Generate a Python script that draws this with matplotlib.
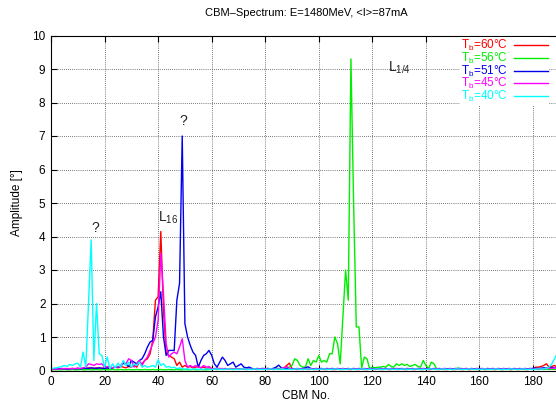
import matplotlib
matplotlib.use('Agg')
import matplotlib.pyplot as plt
import numpy as np

plt.rcParams['font.family'] = ['Liberation Sans', 'DejaVu Sans']
plt.rcParams['mathtext.fontset'] = 'custom'
plt.rcParams['mathtext.rm'] = 'Liberation Sans'

# CBM numbers 0..189 (visible part of the spectrum)
cbm = np.arange(190)

# amplitudes [deg], one list per bunch temperature
amp_60 = [
    0.03, 0.04, 0.03, 0.05, 0.04, 0.05, 0.06, 0.05, 0.06, 0.05,
    0.06, 0.05, 0.07, 0.06, 0.08, 0.07, 0.06, 0.08, 0.07, 0.06,
    0.08, 0.07, 0.06, 0.08, 0.10, 0.08, 0.12, 0.10, 0.08, 0.12,
    0.10, 0.15, 0.10, 0.25, 0.20, 0.30, 0.35, 0.50, 0.90, 2.10,
    2.20, 4.15, 1.80, 0.50, 0.45, 0.40, 0.35, 0.15, 0.25, 0.10,
    0.15, 0.10, 0.12, 0.08, 0.10, 0.12, 0.08, 0.10, 0.06, 0.08,
    0.06, 0.05, 0.07, 0.05, 0.06, 0.04, 0.05, 0.06, 0.04, 0.05,
    0.04, 0.05, 0.04, 0.03, 0.04, 0.05, 0.04, 0.03, 0.04, 0.03,
    0.04, 0.03, 0.04, 0.03, 0.05, 0.04, 0.05, 0.08, 0.15, 0.22,
    0.05, 0.04, 0.03, 0.04, 0.03, 0.04, 0.03, 0.04, 0.03, 0.03,
    0.03, 0.04, 0.03, 0.03, 0.04, 0.03, 0.03, 0.04, 0.03, 0.03,
    0.04, 0.03, 0.03, 0.04, 0.03, 0.03, 0.04, 0.03, 0.03, 0.04,
    0.03, 0.03, 0.04, 0.03, 0.03, 0.04, 0.03, 0.03, 0.04, 0.03,
    0.03, 0.04, 0.03, 0.03, 0.04, 0.03, 0.03, 0.04, 0.03, 0.03,
    0.04, 0.03, 0.03, 0.04, 0.03, 0.03, 0.04, 0.03, 0.03, 0.04,
    0.03, 0.03, 0.04, 0.03, 0.03, 0.04, 0.03, 0.03, 0.04, 0.03,
    0.03, 0.04, 0.03, 0.03, 0.04, 0.03, 0.03, 0.04, 0.03, 0.03,
    0.04, 0.03, 0.03, 0.04, 0.03, 0.03, 0.04, 0.03, 0.03, 0.04,
    0.05, 0.10, 0.10, 0.12, 0.15, 0.20, 0.10, 0.12, 0.15, 0.10,
]
amp_56 = [
    0.02, 0.02, 0.03, 0.02, 0.02, 0.03, 0.02, 0.02, 0.03, 0.02,
    0.02, 0.03, 0.02, 0.02, 0.03, 0.02, 0.02, 0.03, 0.02, 0.02,
    0.03, 0.02, 0.02, 0.03, 0.02, 0.02, 0.03, 0.02, 0.02, 0.03,
    0.02, 0.02, 0.03, 0.02, 0.02, 0.03, 0.02, 0.02, 0.03, 0.02,
    0.02, 0.03, 0.02, 0.02, 0.03, 0.02, 0.02, 0.03, 0.02, 0.02,
    0.03, 0.02, 0.02, 0.03, 0.02, 0.02, 0.03, 0.02, 0.02, 0.03,
    0.03, 0.04, 0.03, 0.04, 0.03, 0.04, 0.05, 0.04, 0.03, 0.04,
    0.05, 0.04, 0.05, 0.04, 0.05, 0.06, 0.05, 0.04, 0.05, 0.06,
    0.05, 0.06, 0.05, 0.06, 0.08, 0.06, 0.05, 0.06, 0.08, 0.10,
    0.15, 0.35, 0.30, 0.15, 0.10, 0.10, 0.35, 0.15, 0.30, 0.25,
    0.45, 0.25, 0.30, 0.25, 0.50, 0.50, 1.00, 0.80, 0.20, 1.60,
    3.00, 2.10, 9.30, 5.00, 1.30, 1.30, 0.07, 0.40, 0.35, 0.05,
    0.10, 0.08, 0.10, 0.10, 0.12, 0.10, 0.18, 0.12, 0.10, 0.20,
    0.15, 0.20, 0.15, 0.18, 0.12, 0.15, 0.18, 0.12, 0.10, 0.30,
    0.15, 0.05, 0.25, 0.20, 0.05, 0.04, 0.03, 0.04, 0.05, 0.04,
    0.03, 0.04, 0.08, 0.04, 0.03, 0.04, 0.03, 0.04, 0.03, 0.04,
    0.03, 0.04, 0.03, 0.04, 0.03, 0.04, 0.03, 0.04, 0.03, 0.04,
    0.03, 0.04, 0.03, 0.04, 0.03, 0.04, 0.03, 0.04, 0.03, 0.04,
    0.03, 0.04, 0.03, 0.04, 0.03, 0.04, 0.03, 0.04, 0.03, 0.04,
]
amp_51 = [
    0.04, 0.05, 0.04, 0.05, 0.06, 0.05, 0.04, 0.05, 0.06, 0.05,
    0.06, 0.05, 0.06, 0.07, 0.06, 0.08, 0.07, 0.06, 0.08, 0.07,
    0.06, 0.08, 0.07, 0.08, 0.10, 0.10, 0.12, 0.22, 0.18, 0.12,
    0.30, 0.25, 0.20, 0.30, 0.35, 0.50, 0.70, 0.85, 0.90, 1.60,
    1.90, 2.35, 1.00, 0.45, 0.60, 0.60, 0.60, 2.10, 2.60, 7.00,
    1.40, 1.00, 0.75, 0.55, 0.45, 0.10, 0.30, 0.45, 0.50, 0.60,
    0.45, 0.20, 0.10, 0.25, 0.40, 0.30, 0.15, 0.20, 0.25, 0.10,
    0.15, 0.20, 0.10, 0.08, 0.10, 0.06, 0.05, 0.06, 0.05, 0.06,
    0.05, 0.06, 0.05, 0.06, 0.10, 0.16, 0.08, 0.05, 0.06, 0.05,
    0.06, 0.05, 0.06, 0.05, 0.06, 0.08, 0.11, 0.06, 0.05, 0.06,
    0.05, 0.06, 0.05, 0.06, 0.05, 0.06, 0.05, 0.06, 0.05, 0.06,
    0.05, 0.06, 0.05, 0.06, 0.05, 0.06, 0.05, 0.06, 0.05, 0.06,
    0.05, 0.06, 0.05, 0.06, 0.05, 0.06, 0.05, 0.06, 0.05, 0.06,
    0.05, 0.06, 0.05, 0.06, 0.05, 0.06, 0.05, 0.06, 0.05, 0.06,
    0.05, 0.06, 0.05, 0.06, 0.05, 0.06, 0.05, 0.06, 0.05, 0.06,
    0.05, 0.06, 0.05, 0.06, 0.05, 0.06, 0.05, 0.06, 0.05, 0.06,
    0.05, 0.06, 0.05, 0.06, 0.05, 0.06, 0.05, 0.06, 0.05, 0.06,
    0.05, 0.06, 0.05, 0.06, 0.05, 0.06, 0.05, 0.06, 0.05, 0.06,
    0.06, 0.07, 0.06, 0.07, 0.08, 0.07, 0.08, 0.09, 0.08, 0.10,
]
amp_45 = [
    0.03, 0.04, 0.05, 0.04, 0.05, 0.06, 0.05, 0.06, 0.05, 0.06,
    0.07, 0.06, 0.08, 0.10, 0.20, 0.18, 0.15, 0.20, 0.18, 0.20,
    0.10, 0.12, 0.10, 0.08, 0.12, 0.10, 0.15, 0.25, 0.20, 0.35,
    0.30, 0.10, 0.20, 0.30, 0.15, 0.30, 0.40, 0.60, 0.80, 1.00,
    1.50, 3.50, 2.30, 0.80, 0.40, 0.50, 0.55, 0.50, 0.70, 0.95,
    0.30, 0.10, 0.15, 0.10, 0.15, 0.10, 0.08, 0.15, 0.10, 0.12,
    0.05, 0.06, 0.05, 0.06, 0.05, 0.06, 0.05, 0.04, 0.05, 0.04,
    0.05, 0.04, 0.05, 0.04, 0.05, 0.04, 0.05, 0.04, 0.05, 0.04,
    0.05, 0.04, 0.05, 0.04, 0.05, 0.04, 0.06, 0.08, 0.12, 0.06,
    0.04, 0.05, 0.04, 0.05, 0.04, 0.05, 0.04, 0.05, 0.04, 0.05,
    0.04, 0.05, 0.04, 0.05, 0.04, 0.05, 0.04, 0.05, 0.04, 0.05,
    0.04, 0.05, 0.04, 0.05, 0.04, 0.05, 0.04, 0.05, 0.04, 0.05,
    0.04, 0.05, 0.04, 0.05, 0.04, 0.05, 0.04, 0.05, 0.04, 0.05,
    0.04, 0.05, 0.04, 0.05, 0.04, 0.05, 0.04, 0.05, 0.04, 0.05,
    0.04, 0.05, 0.04, 0.05, 0.04, 0.05, 0.04, 0.05, 0.04, 0.05,
    0.04, 0.05, 0.04, 0.05, 0.04, 0.05, 0.04, 0.05, 0.04, 0.05,
    0.04, 0.05, 0.04, 0.05, 0.04, 0.05, 0.04, 0.05, 0.04, 0.05,
    0.04, 0.05, 0.04, 0.05, 0.04, 0.05, 0.04, 0.05, 0.04, 0.05,
    0.04, 0.05, 0.04, 0.05, 0.05, 0.06, 0.07, 0.06, 0.08, 0.07,
]
amp_40 = [
    0.05, 0.07, 0.08, 0.10, 0.12, 0.15, 0.12, 0.18, 0.15, 0.20,
    0.22, 0.10, 0.55, 0.10, 2.00, 3.90, 0.30, 2.00, 0.50, 0.45,
    0.10, 0.40, 0.05, 0.20, 0.08, 0.22, 0.10, 0.30, 0.15, 0.25,
    0.10, 0.20, 0.15, 0.25, 0.10, 0.15, 0.10, 0.12, 0.15, 0.10,
    0.32, 0.15, 0.20, 0.10, 0.12, 0.08, 0.10, 0.05, 0.08, 0.05,
    0.04, 0.05, 0.03, 0.04, 0.05, 0.03, 0.04, 0.03, 0.05, 0.04,
    0.03, 0.04, 0.05, 0.03, 0.04, 0.03, 0.05, 0.04, 0.03, 0.04,
    0.03, 0.04, 0.05, 0.03, 0.04, 0.03, 0.05, 0.04, 0.03, 0.04,
    0.03, 0.04, 0.05, 0.03, 0.04, 0.03, 0.05, 0.04, 0.03, 0.04,
    0.03, 0.04, 0.05, 0.03, 0.04, 0.03, 0.05, 0.04, 0.03, 0.04,
    0.03, 0.04, 0.05, 0.03, 0.04, 0.03, 0.05, 0.04, 0.03, 0.04,
    0.03, 0.04, 0.05, 0.03, 0.04, 0.03, 0.05, 0.04, 0.03, 0.04,
    0.03, 0.04, 0.05, 0.03, 0.04, 0.03, 0.05, 0.04, 0.03, 0.04,
    0.03, 0.04, 0.05, 0.03, 0.04, 0.03, 0.05, 0.04, 0.03, 0.04,
    0.03, 0.04, 0.05, 0.03, 0.04, 0.03, 0.05, 0.04, 0.03, 0.04,
    0.03, 0.04, 0.05, 0.03, 0.04, 0.03, 0.05, 0.04, 0.03, 0.04,
    0.03, 0.04, 0.05, 0.03, 0.04, 0.03, 0.05, 0.04, 0.03, 0.04,
    0.03, 0.04, 0.05, 0.03, 0.04, 0.03, 0.05, 0.04, 0.03, 0.04,
    0.03, 0.04, 0.05, 0.04, 0.05, 0.06, 0.10, 0.20, 0.35, 0.50,
]

labels = ['60', '56', '51', '45', '40']
colors = ['#ff0000', '#00ee00', '#0000ee', '#ff00ff', '#00ffff']
series = [amp_60, amp_56, amp_51, amp_45, amp_40]

fig = plt.figure(figsize=(5.56, 4.01), dpi=100)
# axes run past the right edge of the picture (cropped like the original)
ax = fig.add_axes([51 / 556, 30.5 / 401, 535.6 / 556, 335 / 401])

lines = []
for lab, col, amp in zip(labels, colors, series):
    ln, = ax.plot(cbm, amp, color=col, linewidth=1.0,
                  label=r'T$_\mathrm{b}$=' + lab + '°C')
    lines.append(ln)

ax.set_xlim(0, 200)
ax.set_ylim(0, 10)
ax.set_xticks(range(0, 201, 20))
ax.set_xticklabels([str(v) for v in range(0, 181, 20)] + [''])
ax.set_yticks(range(0, 11))
ax.tick_params(direction='in', length=4, width=0.8, top=True, right=True,
               labelsize=8.5, pad=4)
ax.grid(True, color='k', linestyle=(0, (1, 2)), linewidth=0.5)
for sp in ax.spines.values():
    sp.set_linewidth(0.8)

# annotations
ax.text(16.5, 4.05, '?', fontsize=10, ha='center', va='bottom', color='#222222')
ax.text(40.0, 4.3, r'L$_{16}$', fontsize=10, ha='left', va='bottom', color='#222222')
ax.text(49.5, 7.25, '?', fontsize=10, ha='center', va='bottom', color='#222222')
ax.text(126.0, 8.8, r'L$_{1/4}$', fontsize=10, ha='left', va='bottom', color='#222222')

fig.text(306 / 556, 1 - 13 / 401, 'CBM\u2013Spectrum: E=1480MeV, <I>=87mA',
         ha='center', va='center', fontsize=8)
fig.text(306 / 556, 1 - 396 / 401, 'CBM No.', ha='center', va='center', fontsize=8.5)
fig.text(17 / 556, 1 - 203 / 401, 'Amplitude [°]', ha='center', va='center',
         rotation=90, fontsize=8.5)

leg = fig.legend(handles=lines, loc='upper right',
                 bbox_to_anchor=(549 / 556, 1 - 37 / 401),
                 frameon=True, markerfirst=False, labelcolor='linecolor',
                 fontsize=8.5, handlelength=2.9, handletextpad=0.5,
                 labelspacing=-0.2, borderpad=0.1, borderaxespad=0)
leg.get_frame().set_facecolor('white')
leg.get_frame().set_edgecolor('none')
leg.get_frame().set_alpha(1)
leg.get_frame().set_boxstyle('square', pad=0)

fig.savefig('out.png', dpi=100)
